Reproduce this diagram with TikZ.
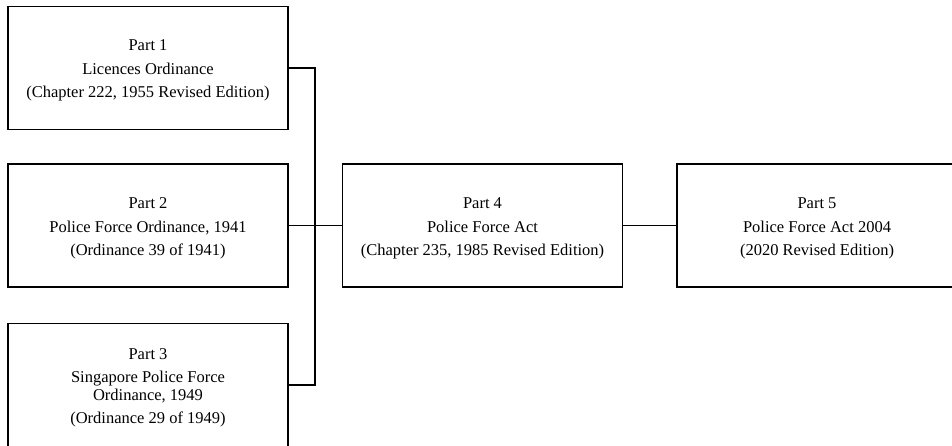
\documentclass[tikz,border=0pt]{standalone}
\usepackage{fontspec}
\setmainfont{Liberation Serif}
\newcommand{\topstrut}{\rule{0pt}{16.5pt}}
\begin{document}
\begin{tikzpicture}[x=1pt,y=-1pt,
  partbox/.style={draw, line width=1.4pt, minimum width=280pt, minimum height=123pt,
    inner sep=0pt, align=center, font=\fontsize{16.5}{17.5}\selectfont},
  conn/.style={line width=1.4pt}]
\useasboundingbox[fill=white] (0,0) rectangle (952,445);
\node[partbox] (p1) at (148,68) {\topstrut Part 1\\[6pt]Licences Ordinance\\[6pt](Chapter 222, 1955 Revised Edition)};
\node[partbox] (p2) at (148,225.5) {\topstrut Part 2\\[6pt]Police Force Ordinance, 1941\\[6pt](Ordinance 39 of 1941)};
\node[partbox] (p3) at (148,385) {\topstrut Part 3\\[6pt]Singapore Police Force\\Ordinance, 1949\\[6pt](Ordinance 29 of 1949)};
\node[partbox] (p4) at (482.5,225.5) {\topstrut Part 4\\[6pt]Police Force Act\\[6pt](Chapter 235, 1985 Revised Edition)};
\node[partbox] (p5) at (817,225.5) {\topstrut Part 5\\[6pt]Police Force Act 2004\\[6pt](2020 Revised Edition)};
\coordinate (j) at (315,0);
\draw[conn] (p1.east) -- (p1.east -| j) -- (p3.east -| j) -- (p3.east);
\draw[conn] (p2) -- (p4);
\draw[conn] (p4) -- (p5);
\end{tikzpicture}
\end{document}
